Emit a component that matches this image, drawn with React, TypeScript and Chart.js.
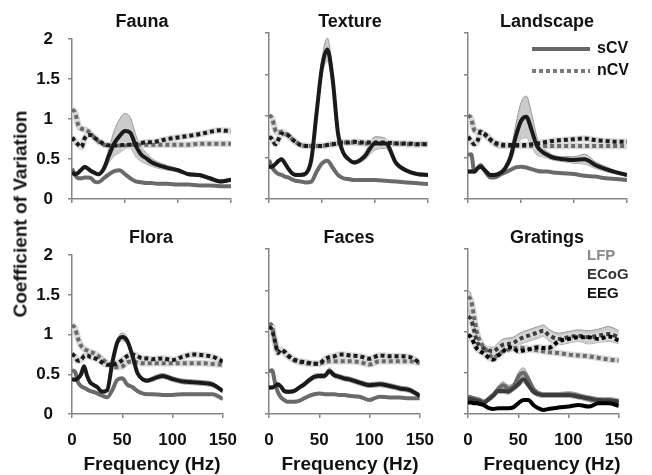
import React, { useEffect, useRef } from "react";
import { Chart, registerables } from "chart.js";

Chart.register(...registerables);

// Frequency grid (Hz) shared by every series
const FREQ = [0, 3, 6, 9, 12, 15, 18, 21, 25, 30, 35, 40, 45, 50, 55, 60, 65, 70, 75, 80, 90, 100, 110, 120, 130, 140, 150];

// Fauna
const FAUNA_ECOG_SCV = [0.33, 0.31, 0.33, 0.37, 0.40, 0.38, 0.35, 0.33, 0.31, 0.38, 0.55, 0.70, 0.79, 0.85, 0.83, 0.67, 0.56, 0.51, 0.46, 0.43, 0.39, 0.36, 0.31, 0.30, 0.26, 0.22, 0.24];
const FAUNA_ECOG_SCV_SEM = [0.02, 0.02, 0.02, 0.02, 0.02, 0.02, 0.02, 0.02, 0.02, 0.04, 0.09, 0.16, 0.21, 0.22, 0.19, 0.14, 0.09, 0.07, 0.05, 0.04, 0.03, 0.02, 0.02, 0.02, 0.02, 0.02, 0.02];
const FAUNA_LFP_SCV = [0.38, 0.30, 0.26, 0.26, 0.27, 0.27, 0.26, 0.22, 0.21, 0.26, 0.31, 0.35, 0.36, 0.31, 0.26, 0.22, 0.21, 0.20, 0.20, 0.19, 0.19, 0.18, 0.18, 0.17, 0.17, 0.16, 0.16];
const FAUNA_ECOG_NCV = [0.77, 0.72, 0.68, 0.65, 0.76, 0.80, 0.80, 0.77, 0.73, 0.69, 0.67, 0.67, 0.67, 0.68, 0.68, 0.69, 0.70, 0.71, 0.71, 0.72, 0.75, 0.77, 0.79, 0.81, 0.84, 0.86, 0.85];
const FAUNA_LFP_NCV = [1.12, 1.08, 0.92, 0.88, 0.87, 0.85, 0.81, 0.77, 0.72, 0.68, 0.67, 0.67, 0.67, 0.67, 0.68, 0.68, 0.68, 0.68, 0.68, 0.68, 0.68, 0.68, 0.68, 0.69, 0.69, 0.69, 0.69];

// Texture
const TEXTURE_ECOG_SCV = [0.39, 0.39, 0.42, 0.46, 0.48, 0.43, 0.37, 0.32, 0.29, 0.29, 0.31, 0.48, 1.05, 1.59, 1.80, 1.45, 0.80, 0.56, 0.48, 0.44, 0.51, 0.67, 0.67, 0.43, 0.34, 0.30, 0.29];
const TEXTURE_ECOG_SCV_SEM = [0.02, 0.02, 0.02, 0.02, 0.02, 0.02, 0.02, 0.02, 0.02, 0.02, 0.02, 0.03, 0.06, 0.10, 0.14, 0.10, 0.05, 0.03, 0.02, 0.02, 0.04, 0.08, 0.06, 0.03, 0.02, 0.02, 0.02];
const TEXTURE_LFP_SCV = [0.47, 0.38, 0.33, 0.30, 0.29, 0.27, 0.26, 0.24, 0.22, 0.21, 0.20, 0.21, 0.33, 0.43, 0.46, 0.38, 0.29, 0.25, 0.24, 0.23, 0.23, 0.23, 0.22, 0.21, 0.20, 0.19, 0.18];
const TEXTURE_ECOG_NCV = [0.75, 0.72, 0.66, 0.72, 0.79, 0.78, 0.77, 0.73, 0.69, 0.65, 0.64, 0.64, 0.64, 0.64, 0.65, 0.66, 0.67, 0.68, 0.68, 0.69, 0.68, 0.68, 0.68, 0.67, 0.67, 0.66, 0.66];
const TEXTURE_LFP_NCV = [1.01, 0.97, 0.83, 0.80, 0.81, 0.79, 0.76, 0.73, 0.69, 0.65, 0.64, 0.64, 0.64, 0.64, 0.65, 0.66, 0.67, 0.68, 0.68, 0.68, 0.67, 0.67, 0.67, 0.67, 0.66, 0.66, 0.67];

// Landscape
const LANDSCAPE_ECOG_SCV = [0.33, 0.33, 0.33, 0.37, 0.39, 0.36, 0.32, 0.29, 0.29, 0.31, 0.37, 0.50, 0.75, 0.94, 0.99, 0.83, 0.64, 0.57, 0.53, 0.50, 0.48, 0.47, 0.48, 0.41, 0.36, 0.32, 0.29];
const LANDSCAPE_ECOG_SCV_SEM = [0.02, 0.02, 0.02, 0.02, 0.02, 0.02, 0.02, 0.02, 0.02, 0.02, 0.03, 0.06, 0.14, 0.22, 0.25, 0.20, 0.11, 0.06, 0.04, 0.03, 0.03, 0.04, 0.06, 0.04, 0.03, 0.02, 0.02];
const LANDSCAPE_LFP_SCV = [0.53, 0.54, 0.33, 0.37, 0.41, 0.35, 0.30, 0.26, 0.26, 0.29, 0.32, 0.35, 0.38, 0.39, 0.38, 0.36, 0.34, 0.33, 0.33, 0.32, 0.31, 0.30, 0.28, 0.27, 0.25, 0.24, 0.23];
const LANDSCAPE_ECOG_NCV = [0.75, 0.70, 0.66, 0.70, 0.81, 0.79, 0.76, 0.72, 0.68, 0.66, 0.65, 0.65, 0.65, 0.65, 0.65, 0.66, 0.67, 0.68, 0.69, 0.70, 0.71, 0.72, 0.73, 0.71, 0.70, 0.69, 0.69];
const LANDSCAPE_LFP_NCV = [1.01, 0.97, 0.83, 0.81, 0.81, 0.78, 0.75, 0.71, 0.67, 0.64, 0.64, 0.64, 0.64, 0.64, 0.64, 0.64, 0.64, 0.64, 0.64, 0.64, 0.64, 0.64, 0.64, 0.64, 0.64, 0.64, 0.64];

// Flora
const FLORA_ECOG_SCV = [0.44, 0.43, 0.45, 0.50, 0.60, 0.48, 0.40, 0.37, 0.34, 0.28, 0.30, 0.64, 0.90, 0.97, 0.92, 0.74, 0.52, 0.44, 0.42, 0.44, 0.48, 0.44, 0.41, 0.40, 0.39, 0.37, 0.29];
const FLORA_ECOG_SCV_SEM = [0.02, 0.02, 0.02, 0.02, 0.02, 0.02, 0.02, 0.02, 0.02, 0.02, 0.02, 0.03, 0.04, 0.05, 0.04, 0.03, 0.02, 0.02, 0.02, 0.03, 0.03, 0.03, 0.03, 0.03, 0.03, 0.03, 0.02];
const FLORA_LFP_SCV = [0.55, 0.53, 0.40, 0.35, 0.33, 0.31, 0.29, 0.28, 0.26, 0.23, 0.21, 0.30, 0.43, 0.45, 0.37, 0.34, 0.29, 0.26, 0.25, 0.25, 0.24, 0.24, 0.25, 0.25, 0.25, 0.25, 0.19];
const FLORA_ECOG_NCV = [0.76, 0.72, 0.67, 0.68, 0.73, 0.74, 0.72, 0.71, 0.69, 0.65, 0.62, 0.62, 0.64, 0.68, 0.73, 0.75, 0.73, 0.70, 0.70, 0.69, 0.70, 0.68, 0.72, 0.75, 0.74, 0.72, 0.66];
const FLORA_LFP_NCV = [1.12, 1.08, 0.95, 0.86, 0.82, 0.80, 0.78, 0.77, 0.74, 0.69, 0.64, 0.60, 0.59, 0.60, 0.65, 0.66, 0.65, 0.64, 0.64, 0.64, 0.64, 0.64, 0.64, 0.64, 0.64, 0.63, 0.62];

// Faces
const FACES_ECOG_SCV = [0.32, 0.32, 0.34, 0.36, 0.33, 0.28, 0.27, 0.27, 0.28, 0.32, 0.36, 0.41, 0.45, 0.46, 0.46, 0.52, 0.47, 0.45, 0.43, 0.42, 0.38, 0.35, 0.36, 0.34, 0.31, 0.29, 0.22];
const FACES_ECOG_SCV_SEM = [0.02, 0.02, 0.02, 0.02, 0.02, 0.02, 0.02, 0.02, 0.02, 0.02, 0.03, 0.03, 0.03, 0.03, 0.03, 0.04, 0.03, 0.03, 0.03, 0.03, 0.03, 0.03, 0.03, 0.03, 0.03, 0.03, 0.02];
const FACES_LFP_SCV = [0.52, 0.53, 0.38, 0.26, 0.20, 0.17, 0.15, 0.15, 0.15, 0.16, 0.19, 0.22, 0.24, 0.25, 0.24, 0.24, 0.24, 0.23, 0.23, 0.22, 0.21, 0.17, 0.21, 0.20, 0.20, 0.19, 0.19];
const FACES_ECOG_NCV = [1.06, 1.02, 0.88, 0.74, 0.78, 0.76, 0.72, 0.69, 0.66, 0.64, 0.63, 0.62, 0.61, 0.61, 0.66, 0.69, 0.70, 0.72, 0.72, 0.71, 0.70, 0.67, 0.71, 0.70, 0.70, 0.69, 0.62];
const FACES_LFP_NCV = [1.10, 1.06, 0.88, 0.76, 0.78, 0.75, 0.71, 0.68, 0.65, 0.63, 0.62, 0.61, 0.61, 0.61, 0.63, 0.64, 0.64, 0.64, 0.64, 0.64, 0.63, 0.60, 0.64, 0.64, 0.64, 0.64, 0.62];

// Gratings
const GRATINGS_EEG_SCV = [0.14, 0.14, 0.13, 0.13, 0.12, 0.11, 0.09, 0.07, 0.06, 0.07, 0.07, 0.07, 0.08, 0.13, 0.17, 0.17, 0.11, 0.07, 0.05, 0.06, 0.08, 0.09, 0.11, 0.09, 0.13, 0.13, 0.10];
const GRATINGS_ECOG_SCV = [0.19, 0.18, 0.17, 0.16, 0.15, 0.13, 0.15, 0.18, 0.22, 0.28, 0.28, 0.27, 0.31, 0.36, 0.42, 0.35, 0.27, 0.24, 0.23, 0.23, 0.23, 0.23, 0.21, 0.19, 0.17, 0.16, 0.15];
const GRATINGS_ECOG_SCV_SEM = [0.02, 0.02, 0.02, 0.02, 0.02, 0.02, 0.02, 0.02, 0.03, 0.03, 0.03, 0.03, 0.03, 0.04, 0.04, 0.03, 0.03, 0.03, 0.03, 0.03, 0.03, 0.03, 0.03, 0.03, 0.03, 0.03, 0.03];
const GRATINGS_LFP_SCV = [0.21, 0.20, 0.19, 0.18, 0.17, 0.15, 0.16, 0.19, 0.23, 0.30, 0.35, 0.31, 0.33, 0.45, 0.50, 0.42, 0.30, 0.25, 0.23, 0.23, 0.23, 0.24, 0.22, 0.18, 0.16, 0.17, 0.15];
const GRATINGS_LFP_SCV_SEM = [0.02, 0.02, 0.02, 0.02, 0.02, 0.02, 0.02, 0.03, 0.03, 0.04, 0.04, 0.04, 0.04, 0.05, 0.06, 0.05, 0.04, 0.03, 0.03, 0.03, 0.03, 0.03, 0.03, 0.03, 0.03, 0.03, 0.03];
const GRATINGS_EEG_NCV = [0.96, 0.93, 0.86, 0.79, 0.76, 0.74, 0.71, 0.68, 0.66, 0.71, 0.76, 0.81, 0.80, 0.76, 0.77, 0.78, 0.80, 0.81, 0.80, 0.80, 0.88, 0.91, 0.93, 0.93, 0.91, 0.94, 0.89];
const GRATINGS_ECOG_NCV = [1.18, 1.15, 1.02, 0.87, 0.83, 0.80, 0.79, 0.77, 0.76, 0.80, 0.84, 0.85, 0.86, 0.90, 0.93, 0.95, 0.97, 0.99, 1.01, 0.96, 0.91, 0.93, 0.95, 0.93, 0.95, 0.97, 0.93];
const GRATINGS_ECOG_NCV_SEM = [0.08, 0.08, 0.07, 0.05, 0.04, 0.04, 0.04, 0.04, 0.05, 0.06, 0.07, 0.07, 0.07, 0.07, 0.07, 0.07, 0.07, 0.07, 0.07, 0.07, 0.07, 0.07, 0.07, 0.08, 0.08, 0.09, 0.08];
const GRATINGS_LFP_NCV = [1.42, 1.38, 1.18, 0.98, 0.88, 0.82, 0.78, 0.73, 0.68, 0.72, 0.76, 0.78, 0.80, 0.80, 0.80, 0.79, 0.78, 0.77, 0.76, 0.75, 0.74, 0.72, 0.71, 0.70, 0.68, 0.66, 0.65];
const GRATINGS_LFP_NCV_SEM = [0.08, 0.07, 0.05, 0.03, 0.02, 0.02, 0.02, 0.02, 0.02, 0.02, 0.02, 0.02, 0.02, 0.02, 0.02, 0.02, 0.02, 0.02, 0.02, 0.02, 0.02, 0.02, 0.02, 0.02, 0.02, 0.02, 0.02];

const Y_MAX = 2;
const Y_STEP = 0.5;
const X_MAX = 150;
const X_STEP = 50;

const FONT = '"Liberation Sans", Arial, Helvetica, sans-serif';
const AXIS = "#858585";
const TEXT = "#111111";
const LFP = "#6a6a6a";
const ECOG = "#1a1a1a";
const ECOG_GRAT = "#3c3c3c";
const EEG = "#000000";
const BAND_FILL = "#cbcbcb";
const BAND_EDGE = "#979797";
const HALO = "#dadada";

// Plot-area geometry (page pixels)
const COL_LEFT = [72, 269, 468];
const ROW_TOP = [33, 249];
const ROW_BOTTOM = [199, 414];
const PLOT_W = 159;
const Y_AXIS_W = 60;
const X_AXIS_H = 50;
const PAD_TOP = 12;
const PAD_RIGHT = 18;

type Series = { values: number[]; sem?: number[]; color: string; dotted?: boolean; z: number };
type PanelSpec = { title: string; col: number; row: number; series: Series[] };

const PANELS: PanelSpec[] = [
  {
    title: "Fauna", col: 0, row: 0,
    series: [
      { values: FAUNA_ECOG_SCV, sem: FAUNA_ECOG_SCV_SEM, color: ECOG, z: 1 },
      { values: FAUNA_LFP_SCV, color: LFP, z: 2 },
      { values: FAUNA_ECOG_NCV, color: ECOG, dotted: true, z: 3 },
      { values: FAUNA_LFP_NCV, color: LFP, dotted: true, z: 4 },
    ],
  },
  {
    title: "Texture", col: 1, row: 0,
    series: [
      { values: TEXTURE_ECOG_SCV, sem: TEXTURE_ECOG_SCV_SEM, color: ECOG, z: 1 },
      { values: TEXTURE_LFP_SCV, color: LFP, z: 2 },
      { values: TEXTURE_ECOG_NCV, color: ECOG, dotted: true, z: 3 },
      { values: TEXTURE_LFP_NCV, color: LFP, dotted: true, z: 4 },
    ],
  },
  {
    title: "Landscape", col: 2, row: 0,
    series: [
      { values: LANDSCAPE_ECOG_SCV, sem: LANDSCAPE_ECOG_SCV_SEM, color: ECOG, z: 1 },
      { values: LANDSCAPE_LFP_SCV, color: LFP, z: 2 },
      { values: LANDSCAPE_ECOG_NCV, color: ECOG, dotted: true, z: 3 },
      { values: LANDSCAPE_LFP_NCV, color: LFP, dotted: true, z: 4 },
    ],
  },
  {
    title: "Flora", col: 0, row: 1,
    series: [
      { values: FLORA_ECOG_SCV, sem: FLORA_ECOG_SCV_SEM, color: ECOG, z: 1 },
      { values: FLORA_LFP_SCV, color: LFP, z: 2 },
      { values: FLORA_ECOG_NCV, color: ECOG, dotted: true, z: 3 },
      { values: FLORA_LFP_NCV, color: LFP, dotted: true, z: 4 },
    ],
  },
  {
    title: "Faces", col: 1, row: 1,
    series: [
      { values: FACES_ECOG_SCV, sem: FACES_ECOG_SCV_SEM, color: ECOG, z: 1 },
      { values: FACES_LFP_SCV, color: LFP, z: 2 },
      { values: FACES_ECOG_NCV, color: ECOG, dotted: true, z: 3 },
      { values: FACES_LFP_NCV, color: LFP, dotted: true, z: 4 },
    ],
  },
  {
    title: "Gratings", col: 2, row: 1,
    series: [
      { values: GRATINGS_EEG_SCV, color: EEG, z: 1 },
      { values: GRATINGS_ECOG_SCV, sem: GRATINGS_ECOG_SCV_SEM, color: ECOG_GRAT, z: 2 },
      { values: GRATINGS_LFP_SCV, sem: GRATINGS_LFP_SCV_SEM, color: LFP, z: 3 },
      { values: GRATINGS_EEG_NCV, color: EEG, dotted: true, z: 4 },
      { values: GRATINGS_ECOG_NCV, sem: GRATINGS_ECOG_NCV_SEM, color: ECOG_GRAT, dotted: true, z: 5 },
      { values: GRATINGS_LFP_NCV, sem: GRATINGS_LFP_NCV_SEM, color: LFP, dotted: true, z: 6 },
    ],
  },
];

const toPoints = (vals: number[]) => FREQ.map((f, i) => ({ x: f, y: vals[i] }));

function buildDatasets(series: Series[]) {
  const sets: any[] = [];
  const common = { pointRadius: 0, cubicInterpolationMode: "monotone", borderJoinStyle: "round" };
  // shaded error bands: upper edge filled down to the lower edge that follows it
  series.forEach((s) => {
    if (!s.sem) return;
    const sem = s.sem;
    sets.push({ ...common, data: toPoints(s.values.map((v, i) => v + sem[i])), borderColor: BAND_EDGE, borderWidth: 1, backgroundColor: BAND_FILL, fill: "+1", order: 40 });
    sets.push({ ...common, data: toPoints(s.values.map((v, i) => v - sem[i])), borderColor: BAND_EDGE, borderWidth: 1, fill: false, order: 40 });
  });
  // pale outline behind the dotted curves
  series.forEach((s) => {
    if (!s.dotted) return;
    sets.push({ ...common, data: toPoints(s.values), borderColor: HALO, borderWidth: 6.5, fill: false, order: 30 });
  });
  series.forEach((s) => {
    sets.push({
      ...common,
      data: toPoints(s.values),
      borderColor: s.color,
      borderWidth: 4,
      borderDash: s.dotted ? [4, 3] : [],
      borderCapStyle: "butt",
      fill: false,
      order: s.z,
    });
  });
  return sets;
}

function Panel({ spec }: { spec: PanelSpec }) {
  const ref = useRef<HTMLCanvasElement>(null);
  const plotH = ROW_BOTTOM[spec.row] - ROW_TOP[spec.row];
  const width = Y_AXIS_W + PLOT_W + PAD_RIGHT;
  const height = PAD_TOP + plotH + X_AXIS_H;
  const left = COL_LEFT[spec.col] - Y_AXIS_W;
  const top = ROW_TOP[spec.row] - PAD_TOP;

  useEffect(() => {
    if (!ref.current) return;
    const tickFont = { family: FONT, size: 17, weight: "bold" as const };
    const gridOpts = { drawOnChartArea: false, drawTicks: true, tickLength: 4, color: AXIS, lineWidth: 1.5 };
    const borderOpts = { display: true, color: AXIS, width: 1.5 };
    const chart = new Chart(ref.current, {
      type: "line",
      data: { datasets: buildDatasets(spec.series) },
      options: {
        responsive: false,
        maintainAspectRatio: false,
        animation: false,
        events: [],
        layout: { padding: { top: PAD_TOP, right: PAD_RIGHT, left: 0, bottom: 0 } },
        plugins: { legend: { display: false }, tooltip: { enabled: false }, title: { display: false } },
        scales: {
          x: {
            type: "linear",
            min: 0,
            max: X_MAX,
            ticks: { stepSize: X_STEP, display: spec.row === 1, font: tickFont, color: TEXT, padding: 12, maxRotation: 0, autoSkip: false },
            grid: gridOpts,
            border: borderOpts,
            afterFit: (s: any) => { s.height = X_AXIS_H; },
          },
          y: {
            type: "linear",
            min: 0,
            max: Y_MAX,
            ticks: {
              stepSize: Y_STEP,
              display: spec.col === 0,
              font: tickFont,
              color: TEXT,
              padding: 8,
              crossAlign: "center",
              callback: (v: any) => String(Number(v)),
            },
            grid: gridOpts,
            border: borderOpts,
            afterFit: (s: any) => { s.width = Y_AXIS_W; },
          },
        },
      } as any,
    });
    return () => chart.destroy();
  }, [spec]);

  return (
    <canvas
      ref={ref}
      width={width}
      height={height}
      style={{ position: "absolute", left, top, width, height }}
    />
  );
}

function Text({ x, y, size, children, color = TEXT, align = "center", rotate = false }: any) {
  const tx = align === "center" ? "-50%" : "0";
  return (
    <div
      style={{
        position: "absolute",
        left: x,
        top: y,
        transform: `translate(${tx}, -50%)${rotate ? " rotate(-90deg)" : ""}`,
        transformOrigin: rotate ? "center center" : undefined,
        fontFamily: FONT,
        fontWeight: "bold",
        fontSize: size,
        color,
        whiteSpace: "nowrap",
        lineHeight: 1,
      }}
    >
      {children}
    </div>
  );
}

const TITLE_POS: Record<string, [number, number]> = {
  Fauna: [142, 21],
  Texture: [350, 21],
  Landscape: [547, 21],
  Flora: [151, 237],
  Faces: [349, 237],
  Gratings: [547, 237],
};

export default function App() {
  return (
    <div style={{ position: "fixed", left: 0, top: 0, width: 652, height: 475, background: "#ffffff", overflow: "hidden" }}>
      {PANELS.map((p) => (
        <Panel key={p.title} spec={p} />
      ))}
      {PANELS.map((p) => (
        <Text key={"t" + p.title} x={TITLE_POS[p.title][0]} y={TITLE_POS[p.title][1]} size={18}>
          {p.title}
        </Text>
      ))}
      <Text x={20} y={214} size={19} rotate>
        Coefficient of Variation
      </Text>
      <Text x={152} y={463} size={19}>Frequency (Hz)</Text>
      <Text x={350} y={463} size={19}>Frequency (Hz)</Text>
      <Text x={552} y={463} size={19}>Frequency (Hz)</Text>

      {/* line-style key */}
      <div style={{ position: "absolute", left: 532, top: 46.5, width: 58, height: 4, background: "#676767" }} />
      <Text x={597} y={48} size={16} align="left">sCV</Text>
      <div
        style={{
          position: "absolute",
          left: 532,
          top: 68.5,
          width: 58,
          height: 4,
          background: "repeating-linear-gradient(to right, #7a7a7a 0px, #7a7a7a 4px, transparent 4px, transparent 7px)",
        }}
      />
      <Text x={597} y={70} size={16} align="left">nCV</Text>

      {/* recording-type key */}
      <Text x={587} y={254} size={15} align="left" color="#8a8a8a">LFP</Text>
      <Text x={587} y={273} size={15} align="left" color="#333333">ECoG</Text>
      <Text x={587} y={292} size={15} align="left" color="#111111">EEG</Text>
    </div>
  );
}
